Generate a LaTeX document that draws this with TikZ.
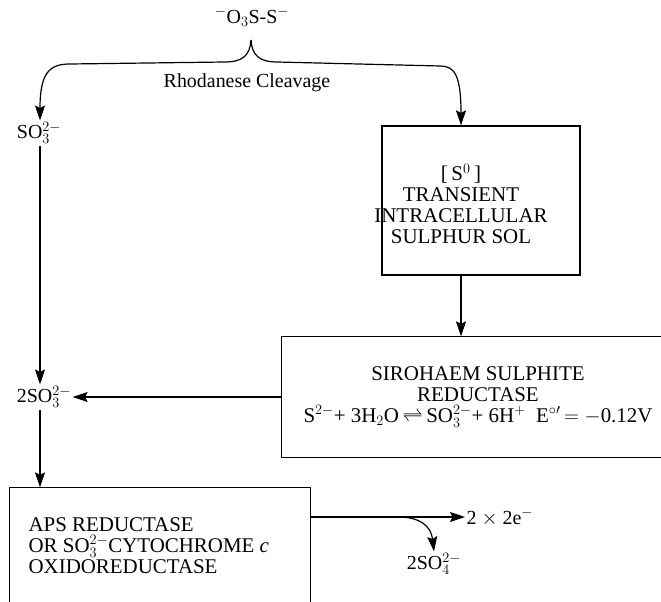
\documentclass[tikz,border=0pt]{standalone}
\usepackage{fontspec}
\setmainfont{Liberation Serif}
\usetikzlibrary{arrows.meta}
\begin{document}
\begin{tikzpicture}[x=1bp,y=-1bp,line width=1.2bp,
  arr/.style={-{Stealth[length=15bp,width=10bp,inset=2.5bp]}},
  txt/.style={font=\fontsize{20}{21}\selectfont,inner sep=1bp},
  btxt/.style={font=\fontsize{21}{21}\selectfont,inner sep=1bp},
  boxshape/.style={inner sep=0pt}]
\useasboundingbox (0,0) rectangle (661,602);
% nodes
\node[txt] (top) at (252,17) {$^{-}$O$_3$S-S$^{-}$};
\coordinate (fork) at (251,40);
\node[txt] (rc) at (247,83) {Rhodanese Cleavage};
\node[txt] (so3a) at (39,133) {SO$_3^{2-}$};
\node[txt] (so3b) at (44,397) {2SO$_3^{2-}$};
\node[draw,boxshape,minimum width=198bp,minimum height=149bp] (box1) at (481,200.5) {};
\node[btxt,align=center] (t1) at (461,204) {[\,S$^0$\,]\\TRANSIENT\\INTRACELLULAR\\SULPHUR SOL};
\node[boxshape,minimum width=379bp,minimum height=120bp] (box2) at (471.5,397) {};
\node[btxt,align=center] (t2) at (478,397) {SIROHAEM SULPHITE\\REDUCTASE\\S$^{2-}$+ 3H$_2$O\,$\rightleftharpoons$\,SO$_3^{2-}$+ 6H$^+$\ \ E$^{\circ\prime}$\,$=-$0.12V};
\node[boxshape,minimum width=300bp,minimum height=114bp] (aps) at (160,545) {};
\node[btxt,align=left,anchor=north west] (t3) at (27,516) {APS REDUCTASE\\OR SO$_3^{2-}$CYTOCHROME \textit{c}\\OXIDOREDUCTASE};
\node[txt,anchor=west] (e2) at (465,517) {2 $\times$ 2e$^-$};
\node[txt] (so4) at (434,564) {2SO$_4^{2-}$};
\coordinate (br) at (398,517);
% open boxes
\draw (box2.north east) -- (box2.north west) -- (box2.south west) -- (box2.south east);
\draw (aps.south west) -- (aps.north west) -- (aps.north east) -- (aps.south east);
% connectors
\draw[arr] (fork) .. controls (250,55) and (243,62) .. (225,62) -- (70,64) .. controls (50,64) and (40,72) .. (so3a.north -| 40,0);
\draw[arr] (fork) .. controls (252,55) and (259,62) .. (277,62) -- (440,66) .. controls (454,66) and (461,74) .. (t1 |- box1.north);
\draw[arr] (t1 |- box1.south) -- (t1 |- box2.north);
\draw[arr] (so3a.south -| 40,0) -- (so3b.north -| 40,0);
\draw[arr] (box2.west) -- (so3b.east);
\draw[arr] (so3b.south -| 40,0) -- (aps.north -| 40,0);
\draw[arr] (aps.east |- e2) -- (e2.west);
\draw[arr] (br) .. controls (420,517) and (431,526) .. (so4.north);
\end{tikzpicture}
\end{document}
